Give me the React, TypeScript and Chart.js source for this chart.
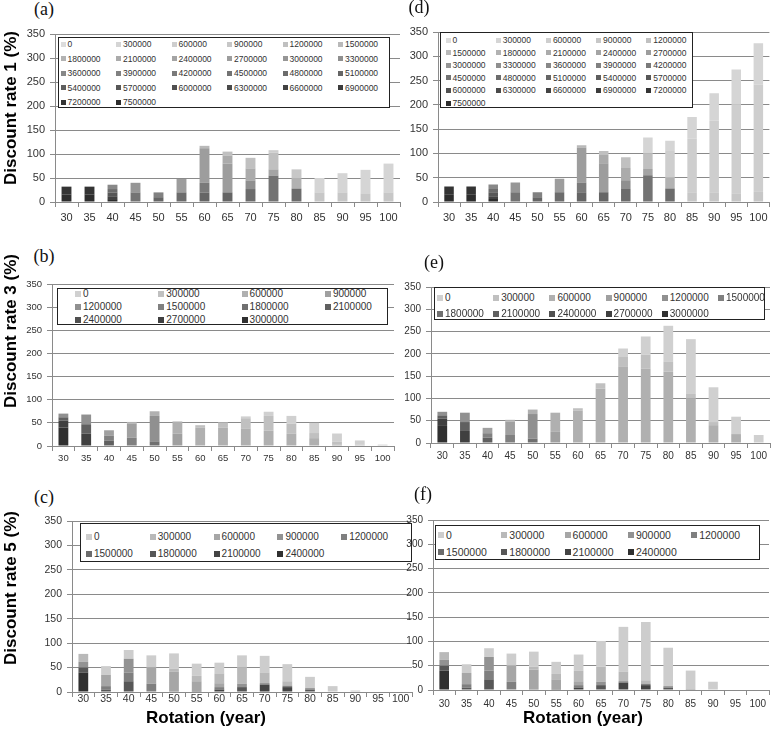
import { useEffect, useRef } from "react";
import { Chart, registerables } from "chart.js";

Chart.register(...registerables);

// ---------- data ----------
const rotationYears = ["30", "35", "40", "45", "50", "55", "60", "65", "70", "75", "80", "85", "90", "95", "100"];
const yTickValues = [0, 50, 100, 150, 200, 250, 300, 350];

const seriesRate1 = [
  "0", "300000", "600000", "900000", "1200000", "1500000", "1800000", "2100000", "2400000",
  "2700000", "3000000", "3300000", "3600000", "3900000", "4200000", "4500000", "4800000",
  "5100000", "5400000", "5700000", "6000000", "6300000", "6600000", "6900000", "7200000", "7500000",
];
const seriesRate3 = [
  "0", "300000", "600000", "900000", "1200000", "1500000", "1800000", "2100000", "2400000", "2700000", "3000000",
];
const seriesRate5 = [
  "0", "300000", "600000", "900000", "1200000", "1500000", "1800000", "2100000", "2400000",
];

// rows = series (same order as series labels), columns = rotation years
const valuesA: number[][] = [
  [0, 0, 0, 0, 0, 0, 0, 0, 0, 0, 0, 0, 0, 0, 0], // 0
  [0, 0, 0, 0, 0, 0, 0, 0, 0, 0, 0, 30, 40, 49, 60], // 300000
  [0, 0, 0, 0, 0, 0, 0, 0, 0, 5, 0, 0, 0, 0, 0], // 600000
  [0, 0, 0, 0, 0, 0, 0, 0, 0, 0, 18, 20, 20, 18, 20], // 900000
  [0, 0, 0, 0, 0, 0, 0, 8, 22, 35, 0, 0, 0, 0, 0], // 1200000
  [0, 0, 0, 0, 0, 0, 5, 0, 0, 0, 0, 0, 0, 0, 0], // 1500000
  [0, 0, 0, 0, 0, 0, 0, 0, 0, 0, 22, 0, 0, 0, 0], // 1800000
  [0, 0, 0, 0, 0, 0, 0, 17, 25, 0, 0, 0, 0, 0, 0], // 2100000
  [0, 0, 0, 0, 0, 0, 0, 0, 0, 13, 0, 0, 0, 0, 0], // 2400000
  [0, 0, 0, 0, 0, 28, 72, 60, 0, 0, 0, 0, 0, 0, 0], // 2700000
  [0, 0, 0, 20, 0, 0, 0, 0, 0, 0, 0, 0, 0, 0, 0], // 3000000
  [0, 0, 0, 0, 0, 0, 0, 0, 18, 0, 0, 0, 0, 0, 0], // 3300000
  [0, 0, 9, 0, 0, 0, 0, 0, 0, 0, 0, 0, 0, 0, 0], // 3600000
  [0, 0, 0, 0, 10, 0, 0, 0, 0, 0, 0, 0, 0, 0, 0], // 3900000
  [0, 0, 0, 0, 0, 0, 20, 0, 0, 0, 0, 0, 0, 0, 0], // 4200000
  [0, 0, 0, 20, 0, 0, 0, 0, 0, 55, 0, 0, 0, 0, 0], // 4500000
  [0, 0, 7, 0, 0, 20, 0, 0, 27, 0, 28, 0, 0, 0, 0], // 4800000
  [0, 0, 0, 0, 10, 0, 20, 20, 0, 0, 0, 0, 0, 0, 0], // 5100000
  [0, 0, 0, 0, 0, 0, 0, 0, 0, 0, 0, 0, 0, 0, 0], // 5400000
  [0, 0, 8, 0, 0, 0, 0, 0, 0, 0, 0, 0, 0, 0, 0], // 5700000
  [0, 0, 0, 0, 0, 0, 0, 0, 0, 0, 0, 0, 0, 0, 0], // 6000000
  [0, 0, 0, 0, 0, 0, 0, 0, 0, 0, 0, 0, 0, 0, 0], // 6300000
  [0, 0, 6, 0, 0, 0, 0, 0, 0, 0, 0, 0, 0, 0, 0], // 6600000
  [0, 0, 0, 0, 0, 0, 0, 0, 0, 0, 0, 0, 0, 0, 0], // 6900000
  [16, 16, 0, 0, 0, 0, 0, 0, 0, 0, 0, 0, 0, 0, 0], // 7200000
  [16, 16, 6, 0, 0, 0, 0, 0, 0, 0, 0, 0, 0, 0, 0], // 7500000
];

const valuesD: number[][] = [
  [0, 0, 0, 0, 0, 0, 0, 0, 0, 0, 0, 0, 0, 0, 0], // 0
  [0, 0, 0, 0, 0, 0, 0, 0, 0, 33, 21, 45, 56, 73, 85], // 300000
  [0, 0, 0, 0, 0, 0, 0, 0, 0, 0, 55, 110, 148, 182, 220], // 600000
  [0, 0, 0, 0, 0, 0, 0, 0, 0, 0, 0, 20, 20, 18, 22], // 900000
  [0, 0, 0, 0, 0, 0, 0, 8, 22, 32, 0, 0, 0, 0, 0], // 1200000
  [0, 0, 0, 0, 0, 0, 5, 0, 0, 0, 0, 0, 0, 0, 0], // 1500000
  [0, 0, 0, 0, 0, 0, 0, 0, 0, 0, 22, 0, 0, 0, 0], // 1800000
  [0, 0, 0, 0, 0, 0, 0, 17, 25, 0, 0, 0, 0, 0, 0], // 2100000
  [0, 0, 0, 0, 0, 0, 0, 0, 0, 13, 0, 0, 0, 0, 0], // 2400000
  [0, 0, 0, 0, 0, 28, 72, 60, 0, 0, 0, 0, 0, 0, 0], // 2700000
  [0, 0, 0, 20, 0, 0, 0, 0, 0, 0, 0, 0, 0, 0, 0], // 3000000
  [0, 0, 0, 0, 0, 0, 0, 0, 18, 0, 0, 0, 0, 0, 0], // 3300000
  [0, 0, 9, 0, 0, 0, 0, 0, 0, 0, 0, 0, 0, 0, 0], // 3600000
  [0, 0, 0, 0, 10, 0, 0, 0, 0, 0, 0, 0, 0, 0, 0], // 3900000
  [0, 0, 0, 0, 0, 0, 20, 0, 0, 0, 0, 0, 0, 0, 0], // 4200000
  [0, 0, 0, 20, 0, 0, 0, 0, 0, 55, 0, 0, 0, 0, 0], // 4500000
  [0, 0, 7, 0, 0, 20, 0, 0, 27, 0, 28, 0, 0, 0, 0], // 4800000
  [0, 0, 0, 0, 10, 0, 20, 20, 0, 0, 0, 0, 0, 0, 0], // 5100000
  [0, 0, 0, 0, 0, 0, 0, 0, 0, 0, 0, 0, 0, 0, 0], // 5400000
  [0, 0, 8, 0, 0, 0, 0, 0, 0, 0, 0, 0, 0, 0, 0], // 5700000
  [0, 0, 0, 0, 0, 0, 0, 0, 0, 0, 0, 0, 0, 0, 0], // 6000000
  [0, 0, 0, 0, 0, 0, 0, 0, 0, 0, 0, 0, 0, 0, 0], // 6300000
  [0, 0, 6, 0, 0, 0, 0, 0, 0, 0, 0, 0, 0, 0, 0], // 6600000
  [0, 0, 0, 0, 0, 0, 0, 0, 0, 0, 0, 0, 0, 0, 0], // 6900000
  [16, 16, 0, 0, 0, 0, 0, 0, 0, 0, 0, 0, 0, 0, 0], // 7200000
  [16, 16, 6, 0, 0, 0, 0, 0, 0, 0, 0, 0, 0, 0, 0], // 7500000
];

const valuesB: number[][] = [
  [0, 0, 0, 0, 0, 0, 0, 0, 4, 9, 17, 22, 18, 9, 3], // 0
  [0, 0, 0, 0, 0, 0, 5, 11, 22, 32, 21, 11, 6, 3, 0], // 300000
  [0, 0, 0, 4, 10, 26, 40, 40, 38, 33, 27, 17, 3, 0, 0], // 600000
  [0, 0, 12, 30, 0, 27, 0, 0, 0, 0, 0, 0, 0, 0, 0], // 900000
  [8, 21, 0, 0, 55, 0, 0, 0, 0, 0, 0, 0, 0, 0, 0], // 1200000
  [0, 0, 10, 18, 0, 0, 0, 0, 0, 0, 0, 0, 0, 0, 0], // 1500000
  [0, 0, 0, 0, 10, 0, 0, 0, 0, 0, 0, 0, 0, 0, 0], // 1800000
  [7, 20, 12, 0, 0, 0, 0, 0, 0, 0, 0, 0, 0, 0, 0], // 2100000
  [0, 0, 0, 0, 0, 0, 0, 0, 0, 0, 0, 0, 0, 0, 0], // 2400000
  [15, 27, 0, 0, 0, 0, 0, 0, 0, 0, 0, 0, 0, 0, 0], // 2700000
  [40, 0, 0, 0, 0, 0, 0, 0, 0, 0, 0, 0, 0, 0, 0], // 3000000
];

const valuesE: number[][] = [
  [0, 0, 0, 0, 0, 0, 0, 0, 19, 41, 80, 123, 78, 39, 18], // 0
  [0, 0, 0, 0, 0, 0, 5, 12, 21, 31, 23, 10, 7, 0, 0], // 300000
  [0, 0, 0, 4, 10, 43, 73, 122, 172, 167, 160, 100, 40, 20, 0], // 600000
  [0, 0, 12, 30, 0, 25, 0, 0, 0, 0, 0, 0, 0, 0, 0], // 900000
  [8, 21, 0, 0, 55, 0, 0, 0, 0, 0, 0, 0, 0, 0, 0], // 1200000
  [0, 0, 10, 18, 0, 0, 0, 0, 0, 0, 0, 0, 0, 0, 0], // 1500000
  [0, 0, 0, 0, 10, 0, 0, 0, 0, 0, 0, 0, 0, 0, 0], // 1800000
  [7, 20, 12, 0, 0, 0, 0, 0, 0, 0, 0, 0, 0, 0, 0], // 2100000
  [0, 0, 0, 0, 0, 0, 0, 0, 0, 0, 0, 0, 0, 0, 0], // 2400000
  [15, 27, 0, 0, 0, 0, 0, 0, 0, 0, 0, 0, 0, 0, 0], // 2700000
  [40, 0, 0, 0, 0, 0, 0, 0, 0, 0, 0, 0, 0, 0, 0], // 3000000
];

const valuesC: number[][] = [
  [0, 18, 18, 25, 31, 25, 22, 25, 34, 35, 23, 11, 3, 0, 0], // 0
  [16, 0, 0, 0, 6, 11, 20, 33, 22, 9, 0, 0, 0, 0, 0], // 300000
  [0, 23, 0, 33, 40, 20, 8, 0, 0, 0, 0, 0, 0, 0, 0], // 600000
  [12, 0, 28, 0, 0, 0, 0, 7, 0, 0, 3, 0, 0, 0, 0], // 900000
  [0, 7, 18, 17, 2, 0, 5, 0, 3, 3, 0, 1, 0, 0, 0], // 1200000
  [0, 0, 0, 0, 0, 0, 0, 0, 0, 0, 0, 0, 0, 0, 0], // 1500000
  [10, 5, 22, 0, 0, 2, 0, 10, 0, 0, 5, 0, 0, 0, 0], // 1800000
  [0, 0, 0, 0, 0, 0, 5, 0, 15, 10, 0, 0, 0, 0, 0], // 2100000
  [40, 0, 0, 0, 0, 0, 0, 0, 0, 0, 0, 0, 0, 0, 0], // 2400000
];

const valuesF: number[][] = [
  [0, 18, 18, 25, 31, 25, 33, 53, 92, 120, 79, 38, 17, 0, 0], // 0
  [16, 0, 0, 0, 6, 11, 22, 31, 20, 7, 0, 0, 0, 0, 0], // 300000
  [0, 23, 0, 33, 40, 20, 8, 0, 0, 0, 0, 0, 0, 0, 0], // 600000
  [12, 0, 28, 0, 0, 0, 0, 7, 0, 0, 3, 0, 0, 0, 0], // 900000
  [0, 7, 18, 17, 2, 0, 5, 0, 3, 3, 0, 2, 0, 0, 0], // 1200000
  [0, 0, 0, 0, 0, 0, 0, 0, 0, 0, 0, 0, 0, 0, 0], // 1500000
  [10, 5, 22, 0, 0, 2, 0, 10, 0, 0, 5, 0, 0, 0, 0], // 1800000
  [0, 0, 0, 0, 0, 0, 5, 0, 15, 10, 0, 0, 0, 0, 0], // 2100000
  [40, 0, 0, 0, 0, 0, 0, 0, 0, 0, 0, 0, 0, 0, 0], // 2400000
];

// ---------- layout / style ----------
const SANS = "'Liberation Sans', Arial, sans-serif";
const SERIF = "'Liberation Serif', 'Times New Roman', serif";

type LegendCfg = {
  left: number; top: number; width: number; height: number; cols: number;
  x0: number; y0: number; colW: number; rowH: number; font: number; marker: number;
};
type PanelCfg = {
  series: string[]; values: number[][]; light: number; dark: number;
  left: number; top: number; width: number; height: number;
  yW: number; xH: number; padTop: number; padRight: number;
  tickSize: number; xPad: number; legend: LegendCfg;
};

const panels: PanelCfg[] = [
  {
    series: seriesRate1, values: valuesA, light: 220, dark: 45,
    left: 15, top: 22, width: 390, height: 208, yW: 40, xH: 28, padTop: 12, padRight: 5, tickSize: 11, xPad: 4.4,
    legend: { left: 58, top: 37, width: 332, height: 71, cols: 6, x0: 62, y0: 43, colW: 55.5, rowH: 14.5, font: 8.5, marker: 5 },
  },
  {
    series: seriesRate1, values: valuesD, light: 220, dark: 45,
    left: 400, top: 20, width: 372, height: 210, yW: 38, xH: 28, padTop: 12, padRight: 2, tickSize: 11, xPad: 4.4,
    legend: { left: 440, top: 32, width: 253, height: 76, cols: 5, x0: 447, y0: 39, colW: 50.2, rowH: 12.6, font: 8.5, marker: 5 },
  },
  {
    series: seriesRate3, values: valuesB, light: 208, dark: 48,
    left: 12, top: 272, width: 385, height: 202, yW: 40, xH: 28, padTop: 12, padRight: 3, tickSize: 9.5, xPad: 1.5,
    legend: { left: 57, top: 288, width: 331, height: 37, cols: 4, x0: 77, y0: 293.3, colW: 83.3, rowH: 12.9, font: 10, marker: 6 },
  },
  {
    series: seriesRate3, values: valuesE, light: 208, dark: 48,
    left: 395, top: 275, width: 377, height: 196, yW: 36, xH: 28, padTop: 12, padRight: 2, tickSize: 10, xPad: 2.4,
    legend: { left: 434, top: 287, width: 331, height: 33, cols: 6, x0: 439, y0: 297, colW: 56.2, rowH: 16, font: 10, marker: 6 },
  },
  {
    series: seriesRate5, values: valuesC, light: 205, dark: 48,
    left: 32, top: 509, width: 383, height: 211, yW: 40, xH: 28, padTop: 12, padRight: 3, tickSize: 10.5, xPad: -4.5,
    legend: { left: 80, top: 523, width: 332, height: 39, cols: 5, x0: 88, y0: 536, colW: 63.8, rowH: 17, font: 10, marker: 6 },
  },
  {
    series: seriesRate5, values: valuesF, light: 205, dark: 48,
    left: 395, top: 508, width: 377, height: 210, yW: 38, xH: 28, padTop: 12, padRight: 3, tickSize: 10, xPad: 3.4,
    legend: { left: 435, top: 525, width: 325, height: 35, cols: 5, x0: 440, y0: 534, colW: 63.3, rowH: 17, font: 10.5, marker: 6 },
  },
];

const panelLetters = [
  { text: "(a)", x: 44, y: 9 },
  { text: "(b)", x: 44, y: 256 },
  { text: "(c)", x: 44, y: 497 },
  { text: "(d)", x: 419, y: 7 },
  { text: "(e)", x: 434, y: 262 },
  { text: "(f)", x: 423, y: 494 },
];
const yTitles = [
  { text: "Discount rate 1 (%)", x: 10, y: 108 },
  { text: "Discount rate 3 (%)", x: 10, y: 331 },
  { text: "Discount rate 5 (%)", x: 10, y: 588 },
];
const xTitles = [
  { text: "Rotation (year)", x: 206, y: 717 },
  { text: "Rotation (year)", x: 583, y: 717 },
];

function gray(i: number, n: number, light: number, dark: number) {
  const v = Math.round(light - ((light - dark) * i) / (n - 1));
  return `rgb(${v},${v},${v})`;
}

function BarPanel({ cfg }: { cfg: PanelCfg }) {
  const ref = useRef<HTMLCanvasElement>(null);
  useEffect(() => {
    const canvas = ref.current;
    if (!canvas) return;
    const n = cfg.series.length;
    const datasets = cfg.series
      .map((label, i) => ({
        label,
        data: cfg.values[i],
        backgroundColor: gray(i, n, cfg.light, cfg.dark),
        borderWidth: 0,
        barPercentage: 0.43,
        categoryPercentage: 1,
      }))
      .reverse();
    const chart = new Chart(canvas, {
      type: "bar",
      data: { labels: rotationYears, datasets },
      options: {
        responsive: false,
        maintainAspectRatio: false,
        animation: false,
        events: [],
        layout: { padding: { top: cfg.padTop, right: cfg.padRight, left: 0, bottom: 0 } },
        plugins: { legend: { display: false }, tooltip: { enabled: false }, title: { display: false } },
        scales: {
          x: {
            stacked: true,
            offset: true,
            grid: { offset: true, drawOnChartArea: false, drawTicks: true, tickLength: 5, color: "#8a8a8a", lineWidth: 1 },
            border: { display: true, color: "#8a8a8a", width: 1 },
            ticks: {
              color: "#333",
              font: { family: SANS, size: cfg.tickSize },
              padding: cfg.xPad,
              maxRotation: 0,
              minRotation: 0,
              autoSkip: false,
            },
            afterFit: (s: any) => {
              s.height = cfg.xH;
            },
          },
          y: {
            stacked: true,
            min: 0,
            max: 350,
            afterBuildTicks: (s: any) => {
              s.ticks = yTickValues.map((v) => ({ value: v }));
            },
            grid: { color: "#8a8a8a", lineWidth: 1, drawTicks: true, tickLength: 5 },
            border: { display: true, color: "#8a8a8a", width: 1 },
            ticks: { color: "#333", font: { family: SANS, size: cfg.tickSize }, padding: 5 },
            afterFit: (s: any) => {
              s.width = cfg.yW;
            },
          },
        },
      } as any,
    });
    return () => chart.destroy();
  }, [cfg]);

  const lg = cfg.legend;
  const n = cfg.series.length;
  return (
    <>
      <canvas
        ref={ref}
        width={cfg.width}
        height={cfg.height}
        style={{ position: "absolute", left: cfg.left, top: cfg.top, width: cfg.width, height: cfg.height }}
      />
      <div
        style={{
          position: "absolute",
          left: lg.left,
          top: lg.top,
          width: lg.width,
          height: lg.height,
          boxSizing: "border-box",
          border: "1px solid #222",
          background: "#fff",
        }}
      >
        {cfg.series.map((label, i) => {
          const col = i % lg.cols;
          const row = Math.floor(i / lg.cols);
          const mx = lg.x0 + col * lg.colW - lg.left;
          const my = lg.y0 + row * lg.rowH - lg.top;
          return (
            <div key={label}>
              <div
                style={{
                  position: "absolute",
                  left: mx - lg.marker / 2,
                  top: my - lg.marker / 2,
                  width: lg.marker,
                  height: lg.marker,
                  background: gray(i, n, cfg.light, cfg.dark),
                }}
              />
              <div
                style={{
                  position: "absolute",
                  left: mx + lg.marker / 2 + 2,
                  top: my,
                  transform: "translateY(-50%)",
                  fontFamily: SANS,
                  fontSize: lg.font,
                  lineHeight: 1,
                  color: "#333",
                  whiteSpace: "nowrap",
                }}
              >
                {label}
              </div>
            </div>
          );
        })}
      </div>
    </>
  );
}

export default function App() {
  return (
    <div
      style={{
        position: "absolute",
        left: 0,
        top: 0,
        width: 772,
        height: 733,
        overflow: "hidden",
        background: "#fff",
      }}
    >
      {panels.map((p, i) => (
        <BarPanel key={i} cfg={p} />
      ))}
      {panelLetters.map((t) => (
        <div
          key={t.text}
          style={{
            position: "absolute",
            left: t.x,
            top: t.y,
            transform: "translate(-50%,-50%)",
            fontFamily: SERIF,
            fontSize: 18,
            lineHeight: 1,
            color: "#111",
            whiteSpace: "nowrap",
          }}
        >
          {t.text}
        </div>
      ))}
      {yTitles.map((t) => (
        <div
          key={t.text}
          style={{
            position: "absolute",
            left: t.x,
            top: t.y,
            transform: "translate(-50%,-50%) rotate(-90deg)",
            fontFamily: SANS,
            fontWeight: "bold",
            fontSize: 17,
            lineHeight: 1,
            color: "#000",
            whiteSpace: "nowrap",
          }}
        >
          {t.text}
        </div>
      ))}
      {xTitles.map((t, i) => (
        <div
          key={i}
          style={{
            position: "absolute",
            left: t.x,
            top: t.y,
            transform: "translate(-50%,-50%)",
            fontFamily: SANS,
            fontWeight: "bold",
            fontSize: 17,
            lineHeight: 1,
            color: "#000",
            whiteSpace: "nowrap",
          }}
        >
          {t.text}
        </div>
      ))}
    </div>
  );
}
